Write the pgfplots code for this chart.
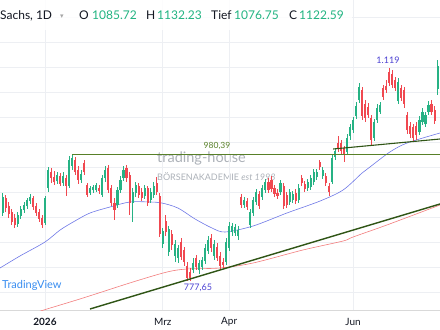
\documentclass[border=0pt]{standalone}
\usepackage{pgfplots}
\usepackage{pgfplotstable}
\pgfplotsset{compat=1.18}
\usepackage{fontspec}
\setmainfont{Lato}
\newfontfamily\dejavu{DejaVu Sans}
\definecolor{cup}{RGB}{38,178,132}
\definecolor{cdn}{RGB}{240,72,80}
\definecolor{hdrgreen}{RGB}{34,180,130}
\definecolor{gridc}{RGB}{237,239,243}
\definecolor{sma50}{RGB}{110,120,230}
\definecolor{sma200}{RGB}{242,125,125}
\definecolor{tlgreen}{RGB}{88,128,40}
\definecolor{tldark}{RGB}{48,85,22}
\definecolor{tvblue}{RGB}{55,140,240}
\definecolor{annblue}{RGB}{75,65,210}
\definecolor{wmgray}{RGB}{172,177,184}
\definecolor{wmblue}{RGB}{125,195,238}
\definecolor{txt}{RGB}{19,23,34}

\pgfplotstableread{
i o h l c
-14 887.2 919.2 882.4 912.8
-9 869.6 888.8 864.8 884
-8 882.4 898.4 877.6 893.6
-7 892 904.8 887.2 900
-6 898.4 911.2 893.6 908
-5 906.4 917.6 901.6 912.8
0 871.2 914.4 868 911.2
1 927.2 960.8 920.8 956
4 938.4 952.8 933.6 948
6 935.2 952.8 930.4 946.4
8 930.4 978.4 927.2 972
9 962.4 980.39 956 975.2
12 940 956 935.2 949.6
15 919.2 930.4 916 927.2
16 924 932 919.2 928.8
17 924 935.2 920.8 932
19 916 948 912.8 943.2
20 943.2 962.4 936.8 956
24 900 928.8 895.2 924
25 924 946.4 919.2 940
26 943.2 962.4 938.4 956
29 903.2 927.2 872.8 920.8
30 919.2 936.8 912.8 932
33 914.4 932 909.6 927.2
35 908 927.2 903.2 920.8
36 916 936.8 911.2 930.4
39 837.6 863.2 831.2 858.4
41 824.8 866.4 818.4 861.6
43 818.4 844 808.8 837.6
44 815.2 836 807.2 831.2
49 796 815.2 791.2 807.2
51 796 812 789.6 807.2
52 800.8 816.8 796 812
53 810.4 837.6 805.6 831.2
54 826.4 850.4 821.6 844
56 818.4 844 812 837.6
60 808.8 847.2 804 840.8
61 831.2 872.8 826.4 866.4
62 856.8 871.2 850.4 866.4
63 855.2 869.6 850.4 864.8
64 850.4 866.4 844 860
66 900 912.8 895.2 908
68 868 893.6 863.2 888.8
69 887.2 912.8 882.4 908
70 904.8 925.6 900 920.8
72 912.8 932 908 927.2
73 924 941.6 919.2 936.8
78 920.8 940 916 935.2
81 904.8 925.6 900 920.8
82 908 922.4 903.2 917.6
84 908 933.6 903.2 927.2
87 927.2 941.6 922.4 936.8
88 928.8 948 924 943.2
89 936.8 957.6 932 952.8
90 944.8 957.6 940 952.8
92 946.4 960.8 941.6 956
95 936.8 980 933.6 975.2
96 976.8 991.2 972 986.4
100 984.8 1013.6 980 1007.2
101 1010.4 1029.6 1004 1024.8
102 1020 1040.8 1015.2 1036
103 1042.4 1064.8 1037.6 1058.4
104 1068 1095.2 1063.2 1088.8
109 1007.2 1037.6 1002.4 1032.8
110 1036 1061.6 1031.2 1055.2
111 1048.8 1064.8 1045.6 1060
117 1066.4 1103.2 1061.6 1096.8
124 1016.8 1042.4 1012 1036
125 1032.8 1055.2 1028 1048.8
126 1029.6 1048.8 1024.8 1044
127 1048.8 1066.4 1044 1060
130 1085.72 1132.23 1076.75 1122.59
}\uptable

\pgfplotstableread{
i o h l c
-13 911.2 916 888.8 895.2
-12 898.4 904.8 879.2 885.6
-11 888.8 893.6 868 872.8
-10 879.2 885.6 863.2 868
-4 911.2 914.4 892 896.8
-3 898.4 903.2 882.4 887.2
-2 888.8 893.6 872.8 877.6
-1 879.2 884 863.2 868
2 952.8 959.2 935.2 943.2
3 944.8 954.4 932 936.8
5 946.4 951.2 930.4 933.6
7 943.2 948 914.4 930.4
10 972 976.8 948 952.8
11 956 962.4 933.6 940
13 967.2 972 948 952.8
14 932 935.2 912.8 916
18 927.2 932 917.6 922.4
21 959.2 964 919.2 924
22 927.2 932 898.4 903.2
23 903.2 911.2 876 892
27 959.2 964 936.8 943.2
28 948 952.8 884 903.2
31 930.4 935.2 911.2 916
32 920.8 927.2 906.4 911.2
34 927.2 930.4 898.4 903.2
37 935.2 944.8 916 920.8
38 914.4 919.2 848.8 853.6
40 874.4 884 850.4 856.8
42 853.6 860 828 836
45 840.8 847.2 812 816.8
46 828 832.8 802.4 808.8
47 802.4 808.8 778.4 783.2
48 792.8 799.2 777.65 783.2
50 815.2 820 796 800.8
55 847.2 853.6 824.8 831.2
57 832.8 839.2 810.4 815.2
58 818.4 824.8 796 802.4
59 808.8 815.2 799.2 804
65 912.8 917.6 895.2 900
67 906.4 911.2 892 896.8
71 917.6 922.4 893.6 898.4
74 936.8 943.2 919.2 924
75 940 946.4 920.8 925.6
76 927.2 932 912.8 917.6
77 919.2 925.6 909.6 914.4
79 930.4 935.2 893.6 898.4
80 916 920.8 895.2 900
83 919.2 925.6 901.6 906.4
85 943.2 948 930.4 935.2
86 933.6 938.4 920.8 925.6
91 968.8 972 956 960.8
93 946.4 951.2 930.4 935.2
94 930.4 935.2 914.4 920.8
97 999.2 1010.4 984.8 989.6
98 999.2 1004 981.6 986.4
99 991.2 994.4 968.8 981.6
105 1084 1088.8 1036 1042.4
106 1061.6 1068 1032.8 1039.2
107 1056.8 1063.2 1039.2 1044
108 1039.2 1044 996 1004
112 1087.2 1092 1068 1072.8
113 1090.4 1100 1079.2 1084
114 1112.8 1119 1090.4 1095.2
115 1109.6 1116 1087.2 1092
116 1100 1104.8 1082.4 1087.2
118 1087.2 1092 1066.4 1071.2
119 1084 1088.8 1055.2 1061.6
120 1044 1048.8 1013.6 1020
121 1026.4 1032.8 1007.2 1013.6
122 1024.8 1029.6 1000.8 1007.2
123 1026.4 1032.8 1004 1012
128 1061.6 1068 1044 1048.8
129 1052 1058.4 1029.6 1034.4
}\dntable

\begin{document}
\begin{tikzpicture}
\useasboundingbox (0,0) rectangle (440pt,-330pt);
% watermark
\node[anchor=west, text=wmgray, font=\fontsize{14.5}{15}\selectfont, inner sep=0pt] at (157pt,-158pt) {trading-house};
\draw[wmblue, line width=1.8pt, dash pattern=on 7pt off 5pt] (158pt,-167.5pt) -- (246pt,-167.5pt);
\node[anchor=west, text=wmgray, font=\fontsize{9}{9}\selectfont, inner sep=0pt] at (157pt,-177pt) {BÖRSENAKADEMIE \textit{est 1998}};
\begin{axis}[
  at={(0pt,0pt)}, anchor=north west,
  scale only axis, width=440pt, height=310pt,
  xmin=-14.9, xmax=130.8, ymin=732, ymax=1228,
  axis line style={draw=none},
  xtick={0,39,61,102},
  xticklabels={\textbf{2026},Mrz,Apr,Jun},
  ytick={760,800,...,1200},
  yticklabels={},
  yticklabel style={anchor=west, inner sep=0pt},
  major tick length=0pt,
  grid=major,
  major grid style={gridc, line width=0.8pt},
  xticklabel style={anchor=center, yshift=-12pt, font=\fontsize{10}{12}\selectfont, text=txt},
]
\draw[black!15, line width=0.8pt] (rel axis cs:0,0) -- (rel axis cs:1,0);
% moving averages
\addplot[sma200, line width=0.6pt, smooth] coordinates {
(-3,728) (0.66,733.6) (12.6,751.2) (29.1,776.8) (40.4,792.8) (47.0,797.6) (57.9,799.2)
(68.9,807.2) (85.4,828) (98.7,842.4) (102,848.8) (113.2,868) (130.8,900)};
\addplot[sma50, line width=0.6pt, smooth] coordinates {
(-14.9,799.2) (-8.3,818.4) (0,840.8) (5,860) (9.9,874.4) (14.9,887.2) (21.5,896.8)
(28.1,904.8) (34.8,904.8) (38.7,903.2) (44,895.2) (49.7,877.6) (55.3,863.2) (59.6,856.8)
(68.9,866.4) (80.1,887.2) (91.1,906.4) (98.7,924) (105,951.2) (107.6,960.8) (114.2,984.8)
(119.9,999.2) (130.8,1015.2)};
% wicks
\addplot[draw=none, mark=none, error bars/.cd, y dir=both, y explicit, error mark=none,
  error bar style={draw=cup, line width=0.7pt}]
  table[x=i, y=o, y error plus expr={\thisrow{h}-\thisrow{o}}, y error minus expr={\thisrow{o}-\thisrow{l}}] {\uptable};
\addplot[draw=none, mark=none, error bars/.cd, y dir=both, y explicit, error mark=none,
  error bar style={draw=cdn, line width=0.7pt}]
  table[x=i, y=o, y error plus expr={\thisrow{h}-\thisrow{o}}, y error minus expr={\thisrow{o}-\thisrow{l}}] {\dntable};
% bodies
\addplot[draw=none, mark=none, error bars/.cd, y dir=both, y explicit, error mark=none,
  error bar style={draw=cup, line width=2.1pt}]
  table[x=i, y=o, y error plus expr={\thisrow{c}-\thisrow{o}}, y error minus expr={0}] {\uptable};
\addplot[draw=none, mark=none, error bars/.cd, y dir=both, y explicit, error mark=none,
  error bar style={draw=cdn, line width=2.1pt}]
  table[x=i, y=o, y error plus expr={0}, y error minus expr={\thisrow{o}-\thisrow{c}}] {\dntable};
% trend lines
\addplot[tlgreen, line width=1.2pt] coordinates {(9,980.39) (130.8,980.39)};
\addplot[tldark, line width=1.4pt] coordinates {(14.9,733.6) (130.8,901.6)};
\addplot[tldark, line width=1.1pt] coordinates {(95.4,989.6) (130.8,1005.6)};
\end{axis}
% annotations
\node[text=tlgreen, font=\fontsize{8.5}{9}\selectfont, inner sep=0pt] at (217pt,-146pt) {980,39};
\node[text=annblue, font=\fontsize{9}{9}\selectfont, inner sep=0pt] at (388pt,-60pt) {1.119};
\node[text=annblue, font=\fontsize{9}{9}\selectfont, inner sep=0pt] at (198pt,-288pt) {777,65};
\node[anchor=west, text=tvblue, font=\fontsize{11}{11}\selectfont, inner sep=0pt] at (2pt,-285pt) {TradingView};
% header
\fill[white, opacity=0.85] (0,0) rectangle (352pt,-30pt);
\begin{scope}[every node/.style={anchor=base west, inner sep=0pt, font=\fontsize{12}{12}\selectfont}]
\node[text=txt] at (0pt,-19pt) {Sachs, 1D};
\node[text=black!35, font=\dejavu\fontsize{7}{7}\selectfont] at (60pt,-18pt) {▾};
\node[text=txt] at (79pt,-19pt) {O};
\node[text=hdrgreen] at (92pt,-19pt) {1085.72};
\node[text=txt] at (146pt,-19pt) {H};
\node[text=hdrgreen] at (157pt,-19pt) {1132.23};
\node[text=txt] at (211pt,-19pt) {Tief};
\node[text=hdrgreen] at (234pt,-19pt) {1076.75};
\node[text=txt] at (289pt,-19pt) {C};
\node[text=hdrgreen] at (299pt,-19pt) {1122.59};
\end{scope}
\end{tikzpicture}
\end{document}
